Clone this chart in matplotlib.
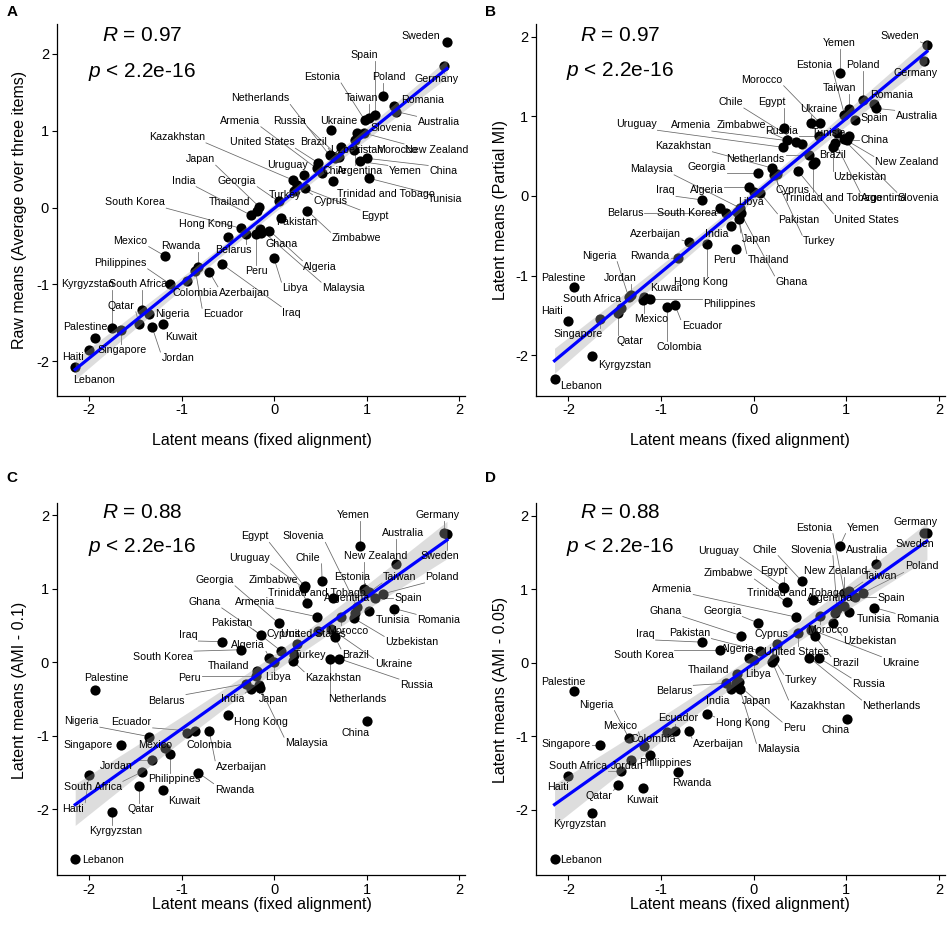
import numpy as np
import matplotlib
matplotlib.use("Agg")
import matplotlib.pyplot as plt

plt.rcParams['font.family'] = ['Liberation Sans', 'DejaVu Sans']
plt.rcParams['mathtext.fontset'] = 'custom'
plt.rcParams['mathtext.rm'] = 'Liberation Sans'
plt.rcParams['mathtext.it'] = 'Liberation Sans:italic'
plt.rcParams['axes.unicode_minus'] = False

# ---------------- data ----------------
countries = [
    "Sweden", "Germany", "Poland", "Romania", "Australia", "Spain", "Taiwan", "Estonia", "Yemen", "China",
    "Tunisia", "New Zealand", "Slovenia", "Argentina", "Uzbekistan", "Morocco", "Ukraine", "Russia", "Brazil", "Netherlands",
    "Trinidad and Tobago", "Chile", "Armenia", "United States", "Uruguay", "Egypt", "Zimbabwe", "Cyprus", "Turkey", "Kazakhstan",
    "Georgia", "Pakistan", "Libya", "Algeria", "Ghana", "Japan", "Thailand", "Peru", "Malaysia", "India",
    "Belarus", "South Korea", "Hong Kong", "Iraq", "Azerbaijan", "Rwanda", "Ecuador", "Colombia", "Philippines", "Mexico",
    "Kuwait", "Jordan", "Nigeria", "South Africa", "Qatar", "Singapore", "Kyrgyzstan", "Palestine", "Haiti", "Lebanon"]

fixed_alignment = [
    1.87, 1.84, 1.18, 1.30, 1.32, 1.09, 1.03, 0.98, 0.93, 1.01,
    1.03, 0.97, 0.90, 0.88, 0.86, 0.72, 0.62, 0.70, 0.66, 0.60,
    0.64, 0.52, 0.46, 0.48, 0.32, 0.33, 0.36, 0.25, 0.22, 0.20,
    0.05, 0.07, 0.00, -0.05, -0.14, -0.16, -0.18, -0.19, -0.15, -0.25,
    -0.30, -0.36, -0.50, -0.56, -0.70, -0.82, -0.85, -0.94, -1.12, -1.18,
    -1.20, -1.32, -1.35, -1.43, -1.46, -1.66, -1.75, -1.94, -2.00, -2.15]

raw_means = [
    2.16, 1.84, 1.45, 1.32, 1.25, 1.21, 1.17, 1.14, 0.60, 0.64,
    0.38, 0.97, 0.97, 0.88, 0.75, 0.79, 1.01, 0.66, 0.64, 0.68,
    0.34, 0.45, 0.51, 0.58, 0.42, 0.25, -0.04, 0.30, 0.22, 0.36,
    0.08, -0.14, -0.66, -0.30, -0.33, 0.01, -0.05, -0.34, -0.28, -0.10,
    -0.34, -0.27, -0.38, -0.74, -0.84, -0.78, -0.82, -0.95, -1.00, -0.63,
    -1.52, -1.55, -1.39, -1.34, -1.51, -1.60, -1.57, -1.70, -1.85, -2.08]

partial_mi = [
    1.90, 1.69, 1.21, 1.15, 1.10, 0.95, 1.09, 1.02, 1.55, 0.70,
    0.75, 0.72, 0.79, 0.67, 0.62, 0.91, 0.91, 0.75, 0.43, 0.52,
    0.40, 0.65, 0.68, 0.31, 0.61, 0.85, 0.70, 0.28, 0.26, 0.35,
    0.29, 0.04, 0.05, 0.11, -0.22, -0.29, -0.20, -0.67, -0.15, -0.38,
    -0.22, -0.15, -0.60, -0.05, -0.58, -0.78, -1.37, -1.40, -1.29, -1.27,
    -1.31, -1.24, -1.27, -1.41, -1.47, -1.55, -2.01, -1.15, -1.57, -2.30]

ami_01 = [
    1.74, 1.75, 0.93, 0.73, 1.33, 0.87, 0.95, 0.98, 1.58, -0.80,
    0.70, 1.00, 0.75, 0.67, 0.60, 0.62, 0.45, 0.05, 0.34, 0.05,
    0.87, 1.10, 0.62, 0.42, 1.01, 1.03, 0.81, 0.25, 0.10, 0.02,
    0.53, 0.16, 0.00, 0.06, 0.37, -0.31, -0.12, -0.18, -0.35, -0.36,
    -0.29, 0.17, -0.72, 0.28, -0.94, -1.50, -0.94, -0.96, -1.25, -1.16,
    -1.73, -1.33, -1.01, -1.49, -1.68, -1.12, -2.04, -0.37, -1.53, -2.67]

ami_005 = [
    1.77, 1.77, 0.95, 0.75, 1.34, 0.89, 0.97, 0.95, 1.59, -0.77,
    0.69, 0.77, 0.73, 0.68, 0.54, 0.63, 0.45, 0.07, 0.36, 0.07,
    0.86, 1.11, 0.62, 0.40, 1.03, 1.02, 0.82, 0.25, 0.05, 0.01,
    0.54, 0.16, 0.04, 0.06, 0.37, -0.26, -0.15, -0.28, -0.36, -0.36,
    -0.28, 0.17, -0.70, 0.28, -0.93, -1.49, -0.93, -0.95, -1.25, -1.14,
    -1.70, -1.32, -1.02, -1.48, -1.67, -1.12, -2.04, -0.39, -1.54, -2.67]

y_titles = ["Raw means (Average over three items)", "Latent means (Partial MI)",
            "Latent means (AMI - 0.1)", "Latent means (AMI - 0.05)"]
r_texts = ["0.97", "0.97", "0.88", "0.88"]
x_ticks = [-2, -1, 0, 1, 2]

# ---------------- label layout (repelled label positions, data units) ----------------
lab_A = {
    "Sweden": (1.59, 2.24), "Germany": (1.76, 1.67), "Poland": (1.24, 1.70), "Romania": (1.61, 1.40),
    "Australia": (1.78, 1.11), "Spain": (0.98, 1.98), "Taiwan": (0.95, 1.42), "Estonia": (0.52, 1.70),
    "Yemen": (1.42, 0.47), "China": (1.83, 0.47), "Tunisia": (1.85, 0.11), "New Zealand": (1.76, 0.75),
    "Slovenia": (1.27, 1.03), "Argentina": (0.93, 0.47), "Uzbekistan": (0.89, 0.75), "Morocco": (1.33, 0.75),
    "Ukraine": (0.70, 1.13), "Russia": (0.17, 1.13), "Brazil": (0.43, 0.85), "Netherlands": (-0.15, 1.42),
    "Trinidad and Tobago": (1.21, 0.18), "Chile": (0.66, 0.47), "Armenia": (-0.37, 1.13),
    "United States": (-0.13, 0.85), "Uruguay": (0.15, 0.56), "Egypt": (1.09, -0.11), "Zimbabwe": (0.89, -0.40),
    "Cyprus": (0.61, 0.09), "Turkey": (0.12, 0.16), "Kazakhstan": (-1.05, 0.92), "Georgia": (-0.40, 0.35),
    "Pakistan": (0.25, -0.19), "Libya": (0.23, -1.05), "Algeria": (0.50, -0.77), "Ghana": (0.08, -0.48),
    "Japan": (-0.80, 0.63), "Thailand": (-0.48, 0.07), "Peru": (-0.19, -0.82), "Malaysia": (0.75, -1.05),
    "India": (-0.98, 0.35), "Belarus": (-0.44, -0.55), "South Korea": (-1.50, 0.07), "Hong Kong": (-0.74, -0.22),
    "Iraq": (0.19, -1.37), "Azerbaijan": (-0.32, -1.11), "Rwanda": (-1.01, -0.50), "Ecuador": (-0.55, -1.39),
    "Colombia": (-0.85, -1.11), "Philippines": (-1.66, -0.72), "Mexico": (-1.55, -0.43), "Kuwait": (-1.00, -1.68),
    "Jordan": (-1.04, -1.96), "Nigeria": (-1.10, -1.39), "South Africa": (-1.47, -1.00), "Qatar": (-1.65, -1.28),
    "Singapore": (-1.64, -1.85), "Kyrgyzstan": (-2.01, -1.00), "Palestine": (-2.04, -1.55), "Haiti": (-2.17, -1.95),
    "Lebanon": (-1.95, -2.24)}

lab_B = {
    "Sweden": (1.58, 2.01), "Yemen": (0.92, 1.92), "Estonia": (0.65, 1.65), "Poland": (1.18, 1.65),
    "Germany": (1.75, 1.54), "Morocco": (0.09, 1.46), "Taiwan": (0.93, 1.36), "Romania": (1.49, 1.27),
    "Chile": (-0.25, 1.18), "Egypt": (0.20, 1.18), "Ukraine": (0.70, 1.09), "Australia": (1.76, 1.00),
    "Spain": (1.30, 0.98), "Uruguay": (-1.27, 0.90), "Armenia": (-0.68, 0.89), "Zimbabwe": (-0.13, 0.89),
    "Russia": (0.30, 0.82), "Tunisia": (0.81, 0.79), "China": (1.30, 0.70), "Kazakhstan": (-0.76, 0.63),
    "Netherlands": (0.02, 0.47), "Brazil": (0.85, 0.52), "New Zealand": (1.65, 0.42), "Malaysia": (-1.10, 0.34),
    "Georgia": (-0.51, 0.36), "Uzbekistan": (1.14, 0.24), "Iraq": (-0.95, 0.07), "Algeria": (-0.51, 0.08),
    "Cyprus": (0.42, 0.07), "Trinidad and Tobago": (0.85, -0.03), "Argentina": (1.41, -0.03),
    "Slovenia": (1.78, -0.03), "Libya": (-0.03, -0.08), "Belarus": (-1.39, -0.21), "South Korea": (-0.72, -0.21),
    "Pakistan": (0.49, -0.30), "United States": (1.22, -0.30), "Azerbaijan": (-1.06, -0.48), "India": (-0.40, -0.48),
    "Japan": (0.03, -0.54), "Turkey": (0.71, -0.57), "Nigeria": (-1.67, -0.75), "Rwanda": (-1.12, -0.75),
    "Peru": (-0.32, -0.81), "Thailand": (0.16, -0.80), "Palestine": (-2.05, -1.03), "Jordan": (-1.44, -1.03),
    "Hong Kong": (-0.57, -1.08), "Ghana": (0.41, -1.08), "Kuwait": (-0.94, -1.16), "South Africa": (-1.75, -1.30),
    "Philippines": (-0.26, -1.36), "Haiti": (-2.18, -1.44), "Mexico": (-1.11, -1.55), "Ecuador": (-0.56, -1.63),
    "Singapore": (-1.90, -1.73), "Qatar": (-1.34, -1.82), "Colombia": (-0.80, -1.90), "Kyrgyzstan": (-1.39, -2.12),
    "Lebanon": (-1.86, -2.39)}

lab_C = {
    "Yemen": (0.86, 2.00), "Germany": (1.77, 2.00), "Egypt": (-0.21, 1.71), "Slovenia": (0.32, 1.71),
    "Australia": (1.39, 1.75), "Uruguay": (-0.27, 1.42), "Chile": (0.37, 1.42), "New Zealand": (1.10, 1.45),
    "Sweden": (1.79, 1.45), "Georgia": (-0.64, 1.12), "Zimbabwe": (-0.01, 1.12), "Estonia": (0.84, 1.16),
    "Taiwan": (1.36, 1.16), "Poland": (1.82, 1.16), "Trinidad and Tobago": (0.46, 0.94), "Argentina": (0.79, 0.87),
    "Spain": (1.45, 0.87), "Ghana": (-0.75, 0.82), "Armenia": (-0.21, 0.82), "Tunisia": (1.29, 0.57),
    "Romania": (1.78, 0.57), "Pakistan": (-0.46, 0.53), "Iraq": (-0.93, 0.37), "Cyprus": (0.10, 0.38),
    "United States": (0.43, 0.38), "Morocco": (0.80, 0.43), "Uzbekistan": (1.49, 0.27), "Algeria": (-0.28, 0.23),
    "South Korea": (-1.20, 0.07), "Turkey": (0.39, 0.10), "Brazil": (0.88, 0.10), "Ukraine": (1.29, -0.03),
    "Thailand": (-0.49, -0.05), "Peru": (-0.91, -0.22), "Libya": (0.04, -0.20), "Kazakhstan": (0.64, -0.21),
    "Russia": (1.54, -0.31), "Palestine": (-1.81, -0.22), "Belarus": (-1.16, -0.52), "India": (-0.45, -0.50),
    "Japan": (-0.01, -0.50), "Netherlands": (0.90, -0.50), "Nigeria": (-2.08, -0.80), "Ecuador": (-1.54, -0.81),
    "Hong Kong": (-0.14, -0.81), "China": (0.88, -0.96), "Singapore": (-2.01, -1.12), "Mexico": (-1.28, -1.12),
    "Colombia": (-0.70, -1.12), "Malaysia": (0.35, -1.10), "Jordan": (-1.70, -1.41), "Azerbaijan": (-0.35, -1.42),
    "Philippines": (-1.08, -1.59), "South Africa": (-1.96, -1.70), "Rwanda": (-0.43, -1.73), "Kuwait": (-0.97, -1.88),
    "Haiti": (-2.17, -1.99), "Qatar": (-1.44, -1.99), "Kyrgyzstan": (-1.71, -2.29), "Lebanon": (-1.85, -2.68)}

lab_D = {
    "Germany": (1.75, 1.91), "Estonia": (0.65, 1.84), "Yemen": (1.18, 1.84), "Uruguay": (-0.38, 1.52),
    "Chile": (0.12, 1.54), "Slovenia": (0.62, 1.54), "Australia": (1.22, 1.53), "Sweden": (1.74, 1.61),
    "Zimbabwe": (-0.27, 1.22), "Egypt": (0.22, 1.25), "New Zealand": (0.88, 1.25), "Taiwan": (1.37, 1.18),
    "Poland": (1.81, 1.31), "Armenia": (-0.88, 1.01), "Trinidad and Tobago": (0.46, 0.95), "Argentina": (0.82, 0.88),
    "Spain": (1.48, 0.88), "Ghana": (-0.95, 0.71), "Georgia": (-0.34, 0.71), "Tunisia": (1.30, 0.59),
    "Romania": (1.77, 0.59), "Iraq": (-1.17, 0.39), "Pakistan": (-0.69, 0.41), "Cyprus": (0.19, 0.39),
    "Morocco": (0.80, 0.44), "Uzbekistan": (1.25, 0.29), "South Korea": (-1.19, 0.10), "Algeria": (-0.17, 0.19),
    "United States": (0.46, 0.15), "Brazil": (0.99, 0.00), "Ukraine": (1.59, 0.00), "Thailand": (-0.49, -0.10),
    "Libya": (0.05, -0.15), "Turkey": (0.51, -0.24), "Russia": (1.24, -0.29), "Palestine": (-2.05, -0.26),
    "Belarus": (-0.86, -0.39), "India": (-0.39, -0.52), "Japan": (0.03, -0.52), "Kazakhstan": (0.69, -0.59),
    "Netherlands": (1.49, -0.59), "Nigeria": (-1.70, -0.57), "Ecuador": (-0.82, -0.75), "Hong Kong": (-0.12, -0.82),
    "Peru": (0.44, -0.89), "China": (0.88, -0.92), "Mexico": (-1.44, -0.86), "Colombia": (-1.08, -1.04),
    "Singapore": (-2.02, -1.11), "Azerbaijan": (-0.38, -1.11), "Malaysia": (0.27, -1.18), "Philippines": (-0.95, -1.36),
    "South Africa": (-1.90, -1.41), "Jordan": (-1.36, -1.41), "Rwanda": (-0.67, -1.64), "Haiti": (-2.11, -1.69),
    "Qatar": (-1.67, -1.82), "Kuwait": (-1.20, -1.87), "Kyrgyzstan": (-1.88, -2.19), "Lebanon": (-1.86, -2.68)}

W, H = 948, 925
fig = plt.figure(figsize=(W / 100, H / 100), dpi=100)

panels = [
    dict(key="A", y=raw_means, lab=lab_A, rect=(56.7, 24, 465, 395.7), ylim=(-2.45, 2.39),
         rp=(-1.43, 2.24, 1.77), letter=(12, 12), xt=(262, 440), yt=(20, 210)),
    dict(key="B", y=partial_mi, lab=lab_B, rect=(536, 24, 945, 395.7), ylim=(-2.51, 2.16),
         rp=(-1.44, 2.02, 1.57), letter=(491, 12), xt=(740, 440), yt=(500, 210)),
    dict(key="C", y=ami_01, lab=lab_C, rect=(56.7, 503.3, 465, 875), ylim=(-2.89, 2.16),
         rp=(-1.43, 2.04, 1.57), letter=(12, 478), xt=(262, 905), yt=(20, 690)),
    dict(key="D", y=ami_005, lab=lab_D, rect=(536, 503.3, 945, 875), ylim=(-2.89, 2.17),
         rp=(-1.44, 2.05, 1.57), letter=(491, 478), xt=(740, 905), yt=(500, 690)),
]

x = np.array(fixed_alignment)
axes_info = []
for i, p in enumerate(panels):
    l, t, r, b = p["rect"]
    ax = fig.add_axes([l / W, 1 - b / H, (r - l) / W, (b - t) / H])
    y = np.array(p["y"])
    ax.set_xlim(-2.35, 2.065)
    ax.set_ylim(*p["ylim"])
    for s in ["top", "right"]:
        ax.spines[s].set_visible(False)
    for s in ["left", "bottom"]:
        ax.spines[s].set_linewidth(0.9)
    ax.set_xticks(x_ticks)
    ax.set_yticks(x_ticks)
    ax.tick_params(direction="out", length=3.5, width=0.8, labelsize=10.5, colors="black", pad=2)

    ax.scatter(x, y, s=54, color="black", linewidths=0, zorder=2)

    # linear fit with 95% CI
    n = len(x)
    slope, inter = np.polyfit(x, y, 1)
    resid = y - (slope * x + inter)
    s_err = np.sqrt(np.sum(resid ** 2) / (n - 2))
    xg = np.linspace(x.min(), x.max(), 100)
    yg = slope * xg + inter
    se = s_err * np.sqrt(1 / n + (xg - x.mean()) ** 2 / np.sum((x - x.mean()) ** 2))
    ax.fill_between(xg, yg - 2.0 * se, yg + 2.0 * se, color="#a0a0a0", alpha=0.35, linewidth=0, zorder=3)
    ax.plot(xg, yg, color="#0000FF", lw=2.3, zorder=4)

    texts = []
    for c in countries:
        lx, ly = p["lab"][c]
        texts.append(ax.text(lx, ly, c, fontsize=7.7, ha="center", va="center", zorder=5))
    rx, ry, py_ = p["rp"]
    ax.text(rx, ry, r"$R$ = " + r_texts[i], fontsize=15, ha="center", va="center")
    ax.text(rx, py_, r"$p$ < 2.2e-16", fontsize=15, ha="center", va="center")

    fig.text(p["letter"][0] / W, 1 - p["letter"][1] / H, p["key"], fontsize=11, fontweight="bold",
             ha="center", va="center")
    fig.text(p["xt"][0] / W, 1 - p["xt"][1] / H, "Latent means (fixed alignment)", fontsize=11.5,
             ha="center", va="center")
    fig.text(p["yt"][0] / W, 1 - p["yt"][1] / H, y_titles[i], fontsize=11.5, rotation=90,
             ha="center", va="center")
    axes_info.append((ax, y, texts))

fig.canvas.draw()
renderer = fig.canvas.get_renderer()
for ax, y, texts in axes_info:
    inv = ax.transData.inverted()
    for xi, yi, t in zip(x, y, texts):
        bb = t.get_window_extent(renderer)
        px, py = ax.transData.transform((xi, yi))
        cx = min(max(px, bb.x0 - 1), bb.x1 + 1)
        cy = min(max(py, bb.y0 - 1), bb.y1 + 1)
        if np.hypot(px - cx, py - cy) > 7:
            (d0x, d0y), (d1x, d1y) = inv.transform((px, py)), inv.transform((cx, cy))
            ax.plot([d0x, d1x], [d0y, d1y], color="#666666", lw=0.55, zorder=1, clip_on=False)

fig.savefig("out.png", dpi=100, facecolor="white")
